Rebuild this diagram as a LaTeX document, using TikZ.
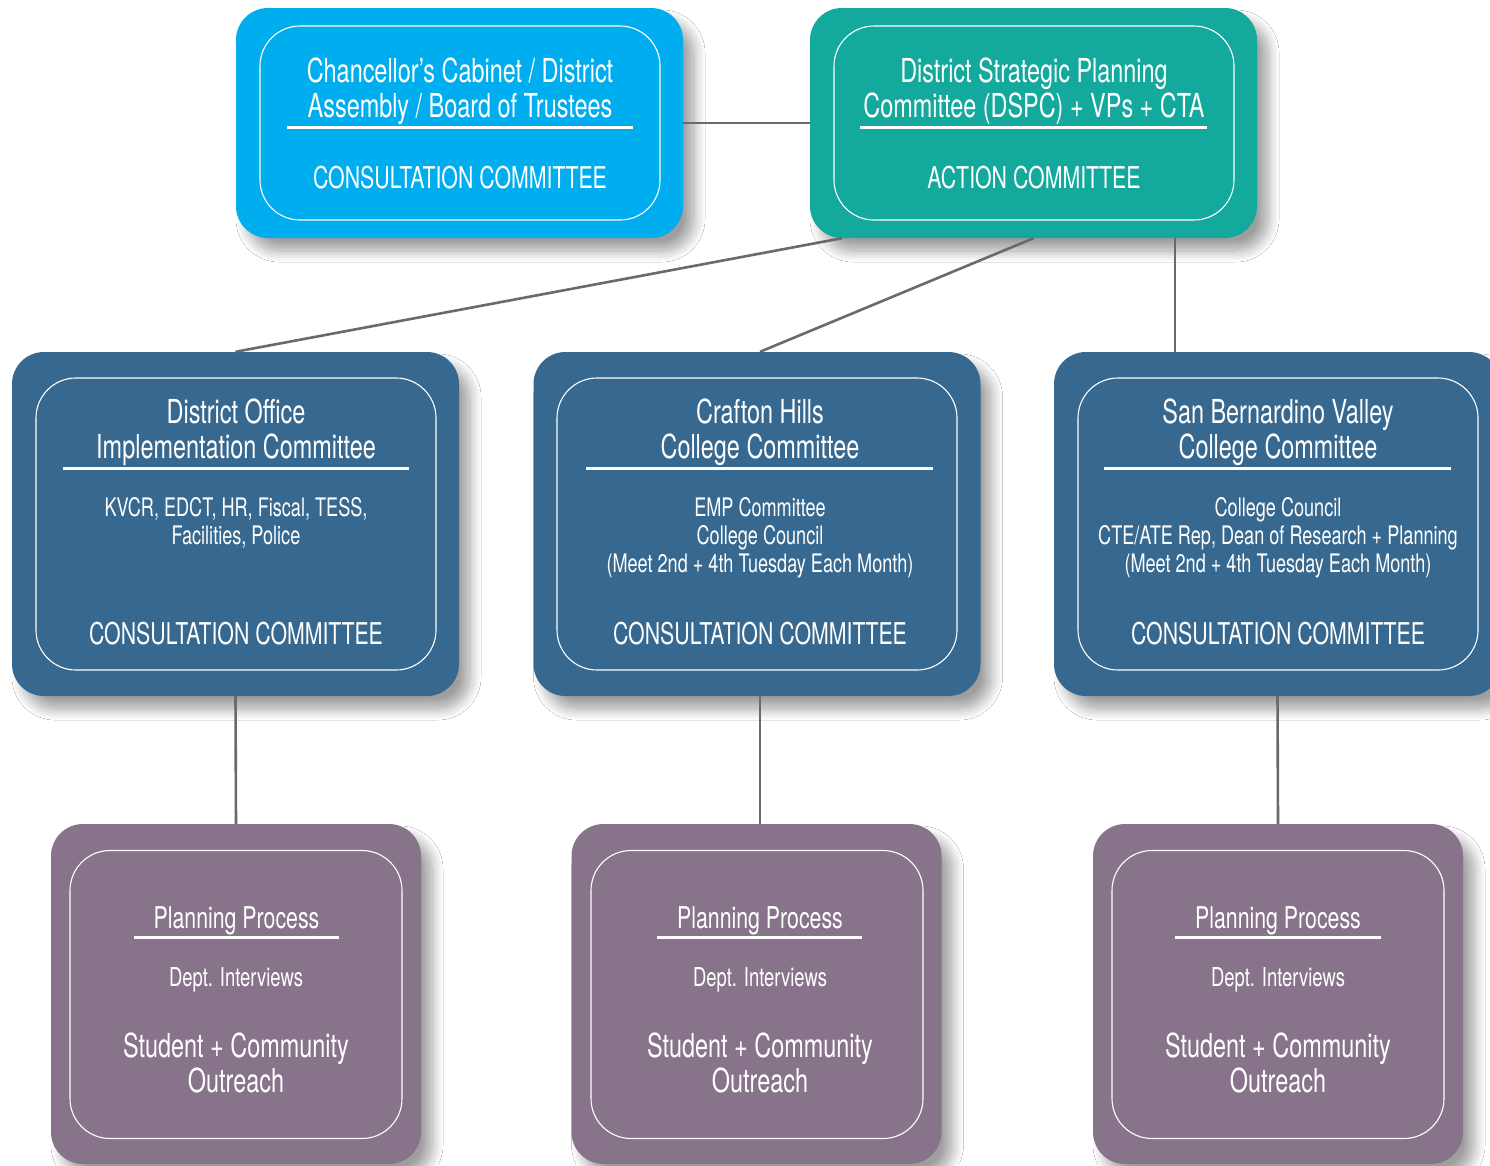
\documentclass[tikz,border=0pt]{standalone}
\usepackage{fontspec}
\setmainfont{TeX Gyre Heros}[FakeStretch=0.71]
\usetikzlibrary{shadows.blur}
\definecolor{cabblue}{HTML}{00AEEF}
\definecolor{dsteal}{HTML}{14A99D}
\definecolor{steelb}{HTML}{37688F}
\definecolor{mauvep}{HTML}{87738A}
\definecolor{connc}{HTML}{6A6A6C}
\tikzset{
  outerbox/.style={rounded corners=32pt, draw=none, inner sep=0pt,
    blur shadow={shadow xshift=11pt, shadow yshift=-13pt, shadow blur radius=11pt, shadow opacity=38, shadow blur steps=14}},
  innerbox/.style={draw=white, line width=1.1pt, rounded corners=40pt, inner sep=0pt},
  topbox/.style={outerbox, minimum width=447pt, minimum height=230pt},
  topinner/.style={innerbox, minimum width=400pt, minimum height=194pt},
  midbox/.style={outerbox, fill=steelb, minimum width=447pt, minimum height=344pt},
  midinner/.style={innerbox, minimum width=400pt, minimum height=292pt},
  botbox/.style={outerbox, fill=mauvep, minimum width=370pt, minimum height=340pt},
  botinner/.style={innerbox, minimum width=332pt, minimum height=288pt},
  txt/.style={text=white, inner sep=0pt, anchor=base},
  ttl/.style={txt, font=\fontsize{33}{35}\selectfont},
  captxt/.style={txt, font=\fontsize{30}{35}\selectfont},
  sml/.style={txt, font=\fontsize{25.5}{28}\selectfont},
  dept/.style={txt, font=\fontsize{26}{28}\selectfont},
  ppt/.style={txt, font=\fontsize{30}{35}\selectfont},
  rulew/.style={draw=white, line width=3pt},
  conn/.style={draw=connc, line width=2.6pt},
}
\begin{document}
\begin{tikzpicture}[x=1pt, y=-1pt]
\useasboundingbox (0,0) rectangle (1490,1165);
\fill[white] (0,0) rectangle (1490,1165);
\clip (0,0) rectangle (1490,1165);

% ---------- top row ----------
\node[topbox, fill=cabblue] (cab) at (459.5,123) {};
\node[topinner] (cabin) at (460,123) {};
\node[ttl] (cab1) at (460,82) {Chancellor’s Cabinet / District};
\node[ttl] (cab2) at (460,117) {Assembly / Board of Trustees};
\draw[rulew] (287,127) -- (633,127);
\node[captxt] (cab3) at (460,188) {CONSULTATION COMMITTEE};

\node[topbox, fill=dsteal] (dspc) at (1033.5,123) {};
\node[topinner] (dspcin) at (1034,123) {};
\node[ttl] (ds1) at (1034,82) {District Strategic Planning};
\node[ttl] (ds2) at (1034,117) {Committee (DSPC) + VPs + CTA};
\draw[rulew] (860,127) -- (1207,127);
\node[captxt] (ds3) at (1034,188) {ACTION COMMITTEE};

% ---------- middle row ----------
\node[midbox] (dio) at (235.5,524) {};
\node[midinner] (dioin) at (236,524) {};
\node[ttl] (dio1) at (236,423) {District Office};
\node[ttl] (dio2) at (236,458) {Implementation Committee};
\draw[rulew] (63,468) -- (409,468);
\node[sml] (dio3) at (236,516) {KVCR, EDCT, HR, Fiscal, TESS,};
\node[sml] (dio4) at (236,544) {Facilities, Police};
\node[captxt] (dio5) at (236,644) {CONSULTATION COMMITTEE};

\node[midbox] (chc) at (757,524) {};
\node[midinner] (chcin) at (757,524) {};
\node[ttl] (chc1) at (760,423) {Crafton Hills};
\node[ttl] (chc2) at (760,458) {College Committee};
\draw[rulew] (586,468) -- (933,468);
\node[sml] (chc3) at (760,516) {EMP Committee};
\node[sml] (chc4) at (760,544) {College Council};
\node[sml] (chc5) at (760,572) {(Meet 2nd + 4th Tuesday Each Month)};
\node[captxt] (chc6) at (760,644) {CONSULTATION COMMITTEE};

\node[midbox] (sbv) at (1277.5,524) {};
\node[midinner] (sbvin) at (1278,524) {};
\node[ttl] (sbv1) at (1278,423) {San Bernardino Valley};
\node[ttl] (sbv2) at (1278,458) {College Committee};
\draw[rulew] (1104,468) -- (1451,468);
\node[sml] (sbv3) at (1278,516) {College Council};
\node[sml] (sbv4) at (1278,544) {CTE/ATE Rep, Dean of Research + Planning};
\node[sml] (sbv5) at (1278,572) {(Meet 2nd + 4th Tuesday Each Month)};
\node[captxt] (sbv6) at (1278,644) {CONSULTATION COMMITTEE};

% ---------- bottom row ----------
\node[botbox] (pp1) at (236,994) {};
\node[botinner] (pp1in) at (236,994.5) {};
\node[ppt] (pp1a) at (236.5,928) {Planning Process};
\draw[rulew] (134,937) -- (339,937);
\node[dept] (pp1b) at (236,986) {Dept. Interviews};
\node[ttl] (pp1c) at (236,1057) {Student + Community};
\node[ttl] (pp1d) at (236,1092) {Outreach};

\node[botbox] (pp2) at (756.5,994) {};
\node[botinner] (pp2in) at (757,994.5) {};
\node[ppt] (pp2a) at (760,928) {Planning Process};
\draw[rulew] (657,937) -- (862,937);
\node[dept] (pp2b) at (760,986) {Dept. Interviews};
\node[ttl] (pp2c) at (760,1057) {Student + Community};
\node[ttl] (pp2d) at (760,1092) {Outreach};

\node[botbox] (pp3) at (1278,994) {};
\node[botinner] (pp3in) at (1278,994.5) {};
\node[ppt] (pp3a) at (1278,928) {Planning Process};
\draw[rulew] (1175,937) -- (1381,937);
\node[dept] (pp3b) at (1278,986) {Dept. Interviews};
\node[ttl] (pp3c) at (1278,1057) {Student + Community};
\node[ttl] (pp3d) at (1278,1092) {Outreach};

% ---------- connectors ----------
\draw[conn] (cab.east) -- (dspc.west);
\draw[conn] ([xshift=-191.5pt]dspc.south) -- (dio.north);
\draw[conn] (dspc.south) -- ([xshift=3pt]chc.north);
\draw[conn] ([xshift=141.5pt]dspc.south) -- ([xshift=-102.5pt]sbv.north);
\draw[conn] (dio.south) -- (pp1.north);
\draw[conn] ([xshift=3pt]chc.south) -- ([xshift=3.5pt]pp2.north);
\draw[conn] (sbv.south) -- (pp3.north);
\end{tikzpicture}
\end{document}
